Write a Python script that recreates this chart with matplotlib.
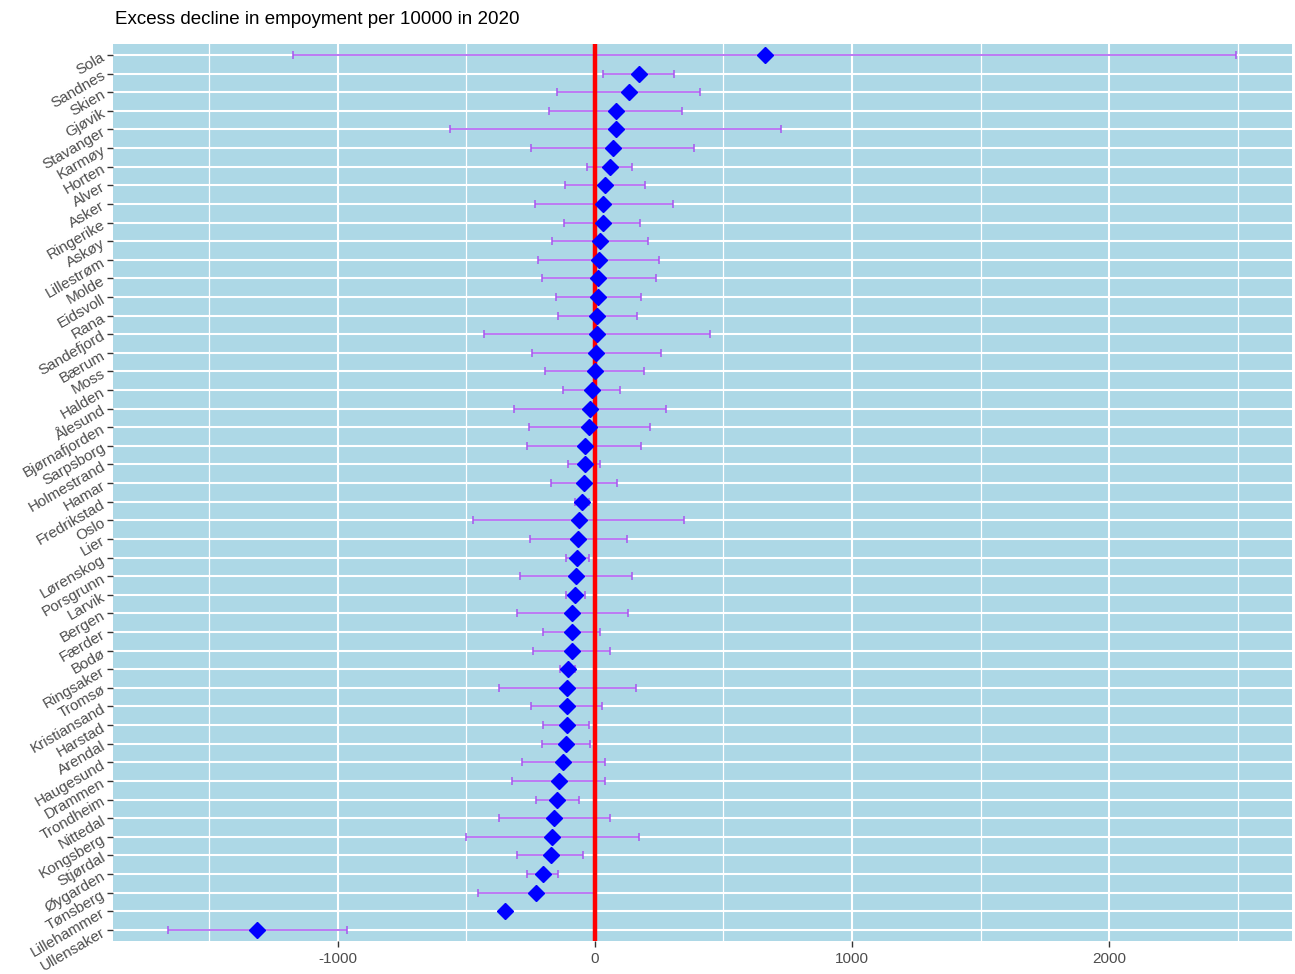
import matplotlib.pyplot as plt
from matplotlib.ticker import MultipleLocator

# kommuner, sortert etter estimat (øverst først)
kommuner = ['Sola', 'Sandnes', 'Skien', 'Gjøvik', 'Stavanger', 'Karmøy', 'Horten', 'Alver',
            'Asker', 'Ringerike', 'Askøy', 'Lillestrøm', 'Molde', 'Eidsvoll', 'Rana',
            'Sandefjord', 'Bærum', 'Moss', 'Halden', 'Ålesund', 'Bjørnafjorden', 'Sarpsborg',
            'Holmestrand', 'Hamar', 'Fredrikstad', 'Oslo', 'Lier', 'Lørenskog', 'Porsgrunn',
            'Larvik', 'Bergen', 'Færder', 'Bodø', 'Ringsaker', 'Tromsø', 'Kristiansand',
            'Harstad', 'Arendal', 'Haugesund', 'Drammen', 'Trondheim', 'Nittedal', 'Kongsberg',
            'Stjørdal', 'Øygarden', 'Tønsberg', 'Lillehammer', 'Ullensaker']

estimat = [660, 170, 134, 83, 82, 70, 60, 40, 33, 33, 21, 15, 13, 12, 9, 6, 4, -1, -13, -19,
           -22, -39, -40, -43, -52, -63, -67, -71, -74, -79, -88, -91, -91, -106, -107, -109,
           -110, -113, -124, -141, -149, -158, -167, -173, -202, -228, -350, -1314]

nedre = [-1176, 30, -146, -179, -565, -247, -31, -116, -235, -119, -167, -220, -208, -152,
         -143, -433, -244, -193, -125, -315, -256, -263, -106, -171, -79, -473, -254, -113,
         -292, -113, -302, -204, -243, -137, -375, -247, -201, -208, -283, -324, -231, -372,
         -501, -305, -266, -457, -362, -1661]

ovre = [2495, 308, 410, 339, 724, 385, 146, 195, 302, 177, 207, 251, 237, 180, 165, 447, 257,
        192, 98, 277, 213, 180, 19, 85, -24, 347, 124, -25, 144, -40, 128, 21, 58, -77, 161, 27,
        -22, -19, 39, 39, -64, 57, 170, -46, -143, -5, -338, -963]

plt.rcParams['font.family'] = ['Liberation Sans', 'DejaVu Sans']
plt.rcParams['axes.unicode_minus'] = False

n = len(kommuner)
ypos = [n - i for i in range(n)]
xerr = [[e - lo for e, lo in zip(estimat, nedre)], [hi - e for e, hi in zip(estimat, ovre)]]

fig = plt.figure(figsize=(12.95, 9.74), dpi=100)
ax = fig.add_axes([0.0873, 0.0339, 0.9104, 0.9211])
ax.set_facecolor('lightblue')

ax.errorbar(estimat, ypos, xerr=xerr, fmt='none', ecolor='#a855f0', elinewidth=1.1,
            capsize=3, capthick=1.1, zorder=3)
ax.axvline(0, color='red', linewidth=3.2, zorder=4)
ax.plot(estimat, ypos, linestyle='none', marker='D', markersize=8.5, color='blue', zorder=5)

ax.set_xlim(-1875, 2712)
ax.set_ylim(0.4, n + 0.6)
ax.xaxis.set_major_locator(MultipleLocator(1000))
ax.xaxis.set_minor_locator(MultipleLocator(500))
ax.set_yticks(ypos)
ax.set_yticklabels(kommuner, rotation=30, ha='right', rotation_mode='anchor')

ax.grid(which='major', color='white', linewidth=1.5, zorder=1)
ax.grid(which='minor', axis='x', color='white', linewidth=0.9, zorder=1)
ax.set_axisbelow(True)
ax.tick_params(axis='both', which='major', length=4, color='#333333', labelsize=11,
               labelcolor='#4d4d4d', width=1)
ax.tick_params(axis='x', which='minor', length=0)
ax.tick_params(axis='y', pad=3)
ax.tick_params(axis='x', pad=4)
for s in ax.spines.values():
    s.set_visible(False)

fig.text(0.089, 0.98, 'Excess decline in empoyment per 10000 in 2020', fontsize=13.5,
         ha='left', va='center', color='black')

fig.savefig('out.png', dpi=100)
